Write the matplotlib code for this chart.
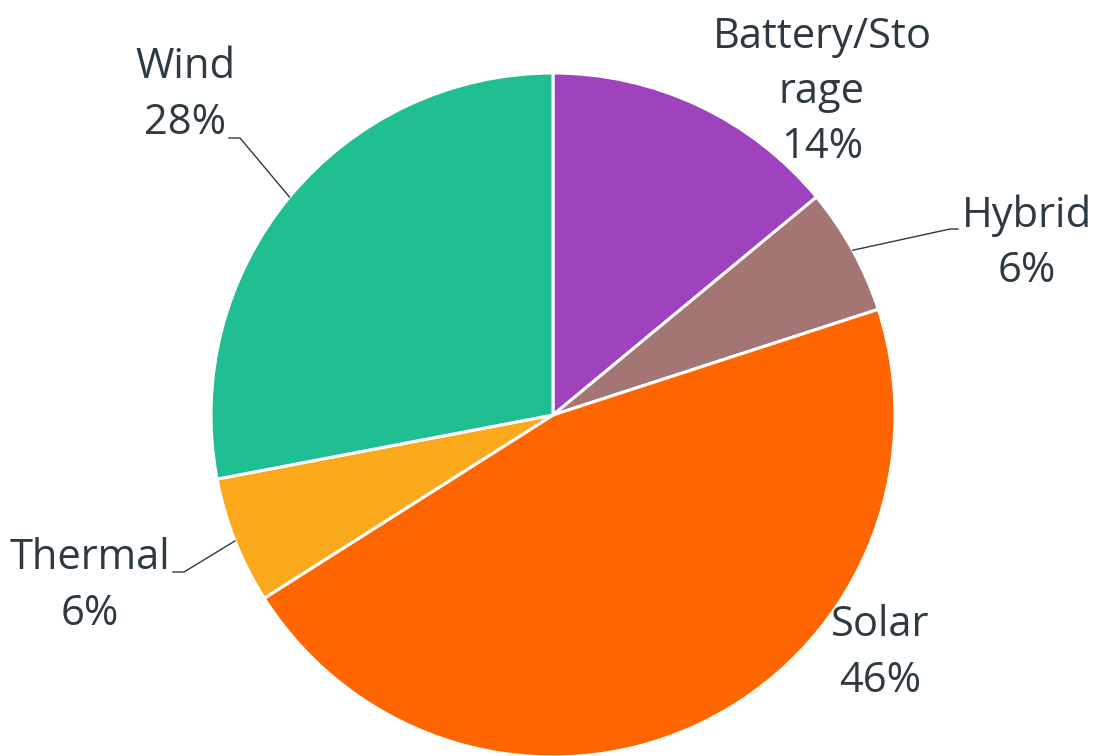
import numpy as np
import matplotlib
matplotlib.use('Agg')
import matplotlib.pyplot as plt

# slice data, clockwise from 12 o'clock
categories = ['Battery/Storage', 'Hybrid', 'Solar', 'Thermal', 'Wind']
shares = [14, 6, 46, 6, 28]
colors = ['#9f42bd', '#a37673', '#ff6600', '#f9a91b', '#20bf92']

# label text as it wraps on the chart
label_text = ['Battery/Sto\nrage', 'Hybrid', 'Solar', 'Thermal', 'Wind']

W, H = 1097, 756
cx, cy, R = 553, 415, 342

# label centres (pixels from top-left) and leader line elbows
label_pos = [(822, 92), (1027, 243), (880, 653), (90, 586), (185, 95)]
elbows = [None, ((950, 229), (958, 229)), None,
          ((184, 572), (173, 572)), ((240, 138), (229, 138))]

txt_color = '#2e3a41'


def flip(p):
    return (p[0], H - p[1])


fig = plt.figure(figsize=(W / 100, H / 100), dpi=100)
ax = fig.add_axes([0, 0, 1, 1])

wedges, _ = ax.pie(shares, colors=colors, startangle=90, counterclock=False,
                   center=(cx, H - cy), radius=R, frame=True,
                   wedgeprops=dict(edgecolor='white', linewidth=2.2))
ax.set_xlim(0, W)
ax.set_ylim(0, H)
ax.set_aspect('equal')
ax.axis('off')

for i, w in enumerate(wedges):
    lx, ly = flip(label_pos[i])
    ax.text(lx, ly, f'{label_text[i]}\n{shares[i]}%', ha='center', va='center',
            multialignment='center', fontsize=30, color=txt_color,
            family=['Open Sans', 'DejaVu Sans'], linespacing=1.42)
    if elbows[i] is not None:
        mid = np.deg2rad((w.theta1 + w.theta2) / 2)
        sx = cx + R * np.cos(mid)
        sy = (H - cy) + R * np.sin(mid)
        (e1x, e1y), (e2x, e2y) = flip(elbows[i][0]), flip(elbows[i][1])
        ax.plot([sx, e1x, e2x], [sy, e1y, e2y], color=txt_color, lw=1)

fig.savefig('out.png', dpi=100)
